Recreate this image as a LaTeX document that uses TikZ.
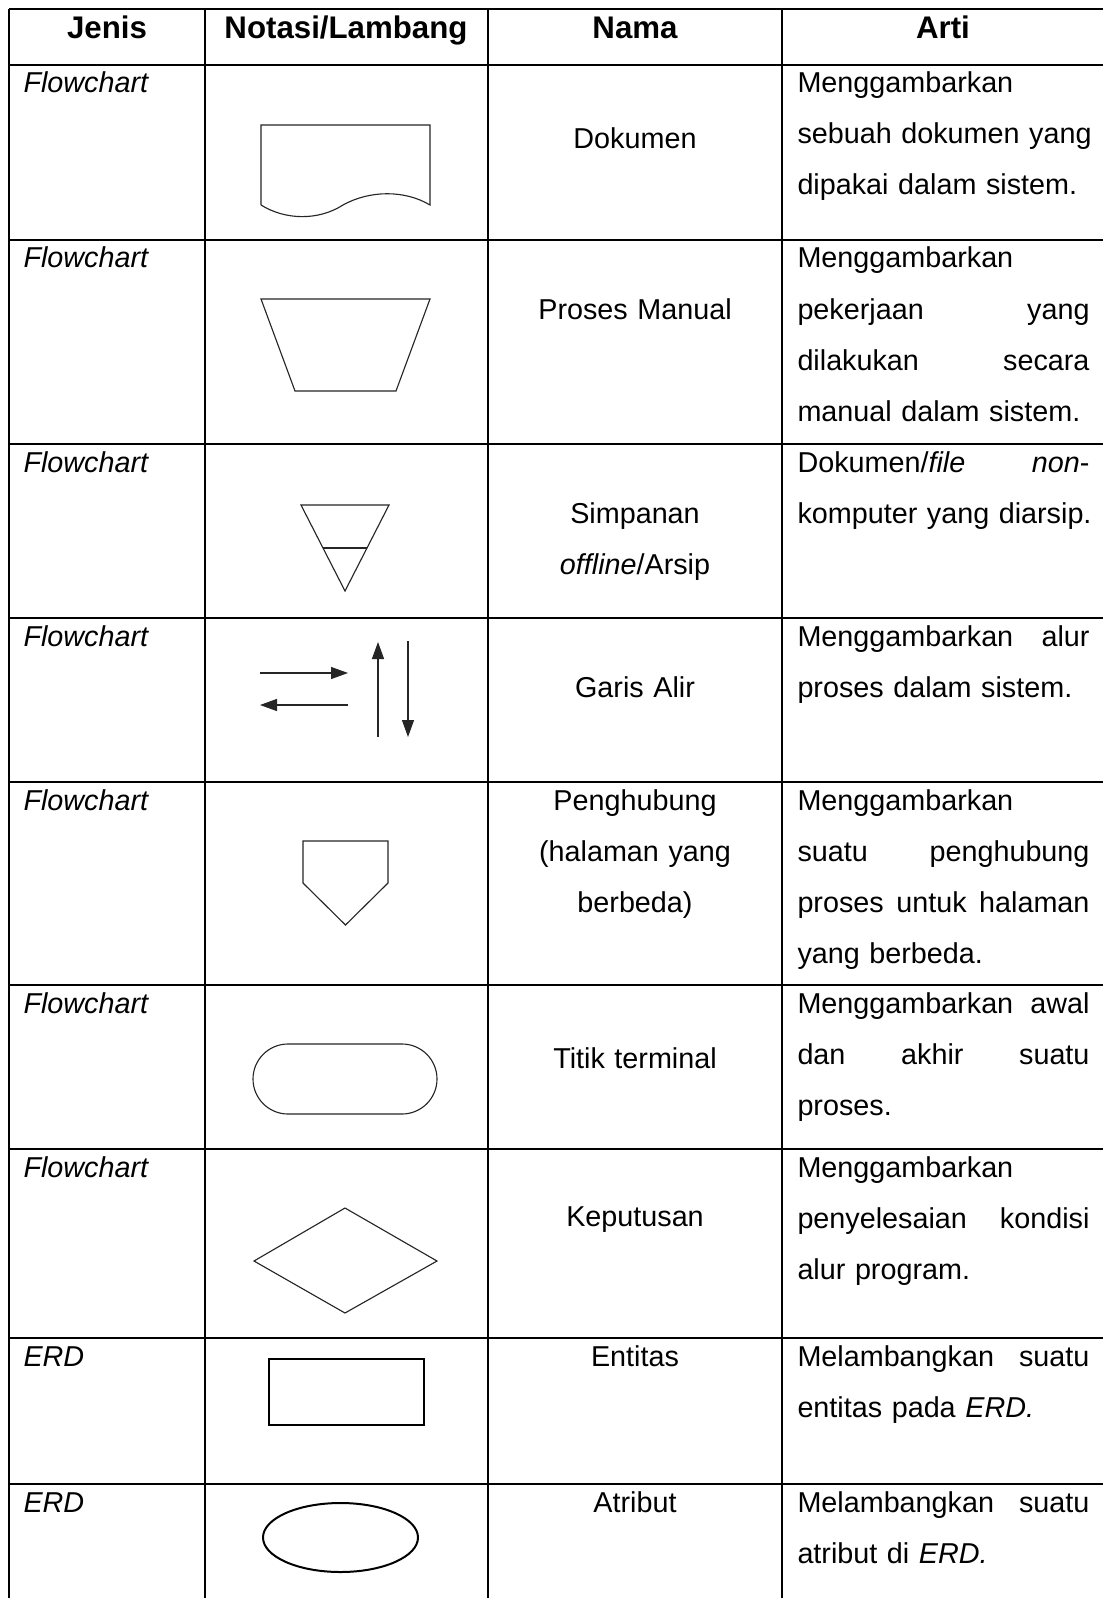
\documentclass[tikz,border=0pt]{standalone}
\usepackage{fontspec}
\setmainfont{Liberation Sans}
\usetikzlibrary{arrows.meta}
\newlength\artiw
\setlength\artiw{116.8pt}
\newcommand\jline[1]{\makebox[\artiw][l]{#1}}
\newcommand\jsp{\ \hspace{0pt plus 1fill}}
\begin{document}
\begin{tikzpicture}[x=0.4pt,y=-0.4pt,
  grid/.style={line width=0.8pt},
  shp/.style={draw=black!85, line width=0.45pt},
  erd/.style={draw=black, line width=0.8pt},
  txt/.style={inner sep=0pt, font=\fontsize{11.5pt}{20.4pt}\selectfont},
  head/.style={inner sep=0pt, font=\fontsize{12.5pt}{15pt}\selectfont\bfseries, anchor=base},
  jenis/.style={txt, anchor=base west},
  nama/.style={txt, anchor=base, text width=112pt, align=center},
  arti/.style={txt, anchor=base west, text width=150pt, align=left},
  flow/.style={shp, -{Triangle[length=6.8pt,width=4.8pt]}},
]
\fill[white] (0,0) rectangle (1103,1598);
\useasboundingbox (0,0) rectangle (1103,1598);

% grid
\foreach \yy in {9,65,240,444,618,782,985,1149,1338,1484}
  \draw[grid] (9,\yy) -- (1103,\yy);
\foreach \xx in {9,205,488,782}
  \draw[grid] (\xx,9) -- (\xx,1598);

% header
\node[head] (h1) at (107,39) {Jenis};
\node[head] (h2) at (346,39) {Notasi/Lambang};
\node[head] (h3) at (635,39) {Nama};
\node[head] (h4) at (943,39) {Arti};

% Jenis column
\node[jenis] (j1) at (23,93)   {\textit{Flowchart}};
\node[jenis] (j2) at (23,268)  {\textit{Flowchart}};
\node[jenis] (j3) at (23,472)  {\textit{Flowchart}};
\node[jenis] (j4) at (23,646)  {\textit{Flowchart}};
\node[jenis] (j5) at (23,810)  {\textit{Flowchart}};
\node[jenis] (j6) at (23,1013) {\textit{Flowchart}};
\node[jenis] (j7) at (23,1177) {\textit{Flowchart}};
\node[jenis] (j8) at (23,1366) {\textit{ERD}};
\node[jenis] (j9) at (23,1512) {\textit{ERD}};

% Nama column
\node[nama] (n1) at (635,149)  {Dokumen};
\node[nama] (n2) at (635,319)  {Proses Manual};
\node[nama] (n3) at (635,523)  {Simpanan\\\textit{offline}/Arsip};
\node[nama] (n4) at (635,697)  {Garis Alir};
\node[nama] (n5) at (635,810)  {Penghubung\\(halaman yang\\berbeda)};
\node[nama] (n6) at (635,1068) {Titik terminal};
\node[nama] (n7) at (635,1226) {Keputusan};
\node[nama] (n8) at (635,1366) {Entitas};
\node[nama] (n9) at (635,1512) {Atribut};

% Arti column
\node[arti] (a1) at (797,93) {Menggambarkan\\
  \jline{sebuah\jsp dokumen\jsp yang}\\
  dipakai dalam sistem.};
\node[arti] (a2) at (797,268) {Menggambarkan\\
  \jline{pekerjaan\jsp yang}\\
  \jline{dilakukan\jsp secara}\\
  manual dalam sistem.};
\node[arti] (a3) at (797,472) {\jline{Dokumen/\textit{file}\jsp\textit{non}-}\\
  komputer yang diarsip.};
\node[arti] (a4) at (797,646) {\jline{Menggambarkan\jsp alur}\\
  proses dalam sistem.};
\node[arti] (a5) at (797,810) {Menggambarkan\\
  \jline{suatu\jsp penghubung}\\
  \jline{proses\jsp untuk\jsp halaman}\\
  yang berbeda.};
\node[arti] (a6) at (797,1013) {\jline{Menggambarkan\jsp awal}\\
  \jline{dan\jsp akhir\jsp suatu}\\
  proses.};
\node[arti] (a7) at (797,1177) {Menggambarkan\\
  \jline{penyelesaian\jsp kondisi}\\
  alur program.};
\node[arti] (a8) at (797,1366) {\jline{Melambangkan\jsp suatu}\\
  entitas pada \textit{ERD.}};
\node[arti] (a9) at (797,1512) {\jline{Melambangkan\jsp suatu}\\
  atribut di \textit{ERD.}};

% Symbols
% document
\draw[shp] (261,205) -- (261,125) -- (430,125) -- (430,205)
  .. controls (405,190) and (370,190) .. (343,205)
  .. controls (318,221) and (285,220) .. (261,205);
% manual process
\draw[shp] (261,299) -- (430,299) -- (396,391) -- (295,391) -- cycle;
% offline storage
\draw[shp] (301,505) -- (389,505) -- (345,591) -- cycle;
\draw[shp] (323,548) -- (367,548);
% flow lines
\coordinate (r1) at (260,673); \coordinate (r2) at (348,673);
\coordinate (l1) at (348,705); \coordinate (l2) at (260,705);
\coordinate (u1) at (378,737); \coordinate (u2) at (378,642);
\coordinate (d1) at (408,641); \coordinate (d2) at (408,737);
\draw[flow] (r1) -- (r2);
\draw[flow] (l1) -- (l2);
\draw[flow] (u1) -- (u2);
\draw[flow] (d1) -- (d2);
% off-page connector
\draw[shp] (303,841) -- (388,841) -- (388,883) -- (345.5,925) -- (303,883) -- cycle;
% terminal
\draw[shp, rounded corners=14pt] (253,1044) rectangle (437,1114);
% decision
\draw[shp] (345,1208) -- (437,1261) -- (345,1313) -- (254,1261) -- cycle;
% entity
\draw[erd] (269,1359) rectangle (424,1425);
% attribute
\draw[erd] (340.5,1537.5) ellipse [x radius=77.5, y radius=34.5];
\end{tikzpicture}
\end{document}
